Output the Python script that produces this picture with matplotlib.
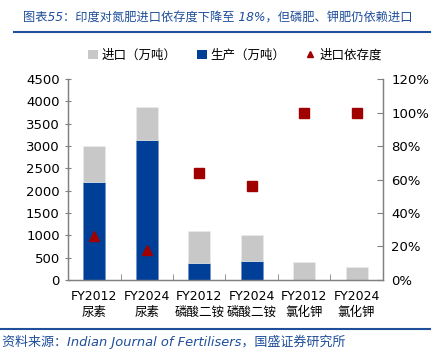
import matplotlib.pyplot as plt
import numpy as np
from matplotlib.lines import Line2D
from matplotlib.patches import Patch

plt.rcParams['font.family'] = ['DejaVu Sans', 'Noto Sans CJK SC']

# ---------------------------------------------------------
# DATA
# ---------------------------------------------------------
years = ['FY2012', 'FY2024', 'FY2012', 'FY2024', 'FY2012', 'FY2024']
products = ['尿素', '尿素', '磷酸二铵', '磷酸二铵', '氯化钾', '氯化钾']
production = [2190, 3130, 380, 420, 0, 0]
imports = [810, 740, 720, 580, 410, 300]
dependence = [0.26, 0.18, 0.64, 0.56, 1.00, 1.00]
markers = ['^', '^', 's', 's', 's', 's']

GREY = '#C8C8C8'
BLUE = '#003F97'
RED = '#A00000'
TITLE_BLUE = '#1F4E9A'
SPINE = '#808080'

fig = plt.figure(figsize=(4.39, 3.53), dpi=100)
ax = fig.add_axes([0.155, 0.207, 0.717, 0.569])
ax2 = ax.twinx()

x = np.arange(len(years))
ax.bar(x, production, width=0.42, color=BLUE, edgecolor='#6F8FC8', linewidth=0.4, zorder=2)
ax.bar(x, imports, width=0.42, bottom=production, color=GREY, edgecolor='#EDEDED',
       linewidth=0.4, zorder=2)

for xi, d, m in zip(x, dependence, markers):
    ax2.plot(xi, d, marker=m, color=RED, markersize=7,
             linestyle='none', zorder=3)

ax.set_xlim(-0.5, len(years) - 0.5)
ax.set_ylim(0, 4500)
ax.set_yticks(np.arange(0, 4501, 500))
ax2.set_ylim(0, 1.2)
ax2.set_yticks(np.arange(0, 1.21, 0.2))
ax2.set_yticklabels([f'{int(round(v * 100))}%' for v in np.arange(0, 1.21, 0.2)])

ax.set_xticks(x)
ax.set_xticklabels([f'{y}\n{p}' for y, p in zip(years, products)], fontsize=9,
                   linespacing=1.35)
ax.set_xticks(np.arange(0.5, len(years) - 0.5, 1), minor=True)
ax.tick_params(axis='x', which='major', length=0, pad=7)
ax.tick_params(axis='x', which='minor', length=4, direction='in', color=SPINE)
ax.tick_params(axis='y', labelsize=9.5, length=4, direction='inout', color=SPINE, pad=4)
ax2.tick_params(axis='y', labelsize=9.5, length=4, direction='in', color=SPINE, pad=6)

for a in (ax, ax2):
    a.spines['top'].set_visible(False)
    for s in ('left', 'right', 'bottom'):
        a.spines[s].set_color(SPINE)
        a.spines[s].set_linewidth(0.9)

# legend
handles = [
    Patch(facecolor=GREY, edgecolor='none'),
    Patch(facecolor=BLUE, edgecolor='none'),
    Line2D([], [], marker='^', color=RED, linestyle='none', markersize=5),
]
fig.legend(handles, ['进口（万吨）', '生产（万吨）', '进口依存度'], loc='center',
           bbox_to_anchor=(0.535, 0.843), ncol=3, frameon=False,
           handlelength=0.8, handleheight=0.8, handletextpad=0.3, columnspacing=1.6,
           prop={'family': ['Noto Sans CJK SC'], 'size': 9})

# title and source
fig.text(0.052, 0.95, '图表55：印度对氮肥进口依存度下降至 18%，但磷肥、钾肥仍依赖进口',
         color=TITLE_BLUE, fontsize=8.8, style='italic', va='center', ha='left')
fig.add_artist(Line2D([0.032, 0.98], [0.909, 0.909], color=TITLE_BLUE, linewidth=1.5))
fig.add_artist(Line2D([0.0, 0.98], [0.068, 0.068], color=TITLE_BLUE, linewidth=1.5))
fig.text(0.005, 0.032, '资料来源：Indian Journal of Fertilisers，国盛证券研究所',
         color=TITLE_BLUE, fontsize=9.4, style='italic', va='center', ha='left')

fig.savefig('out.png', dpi=100)
